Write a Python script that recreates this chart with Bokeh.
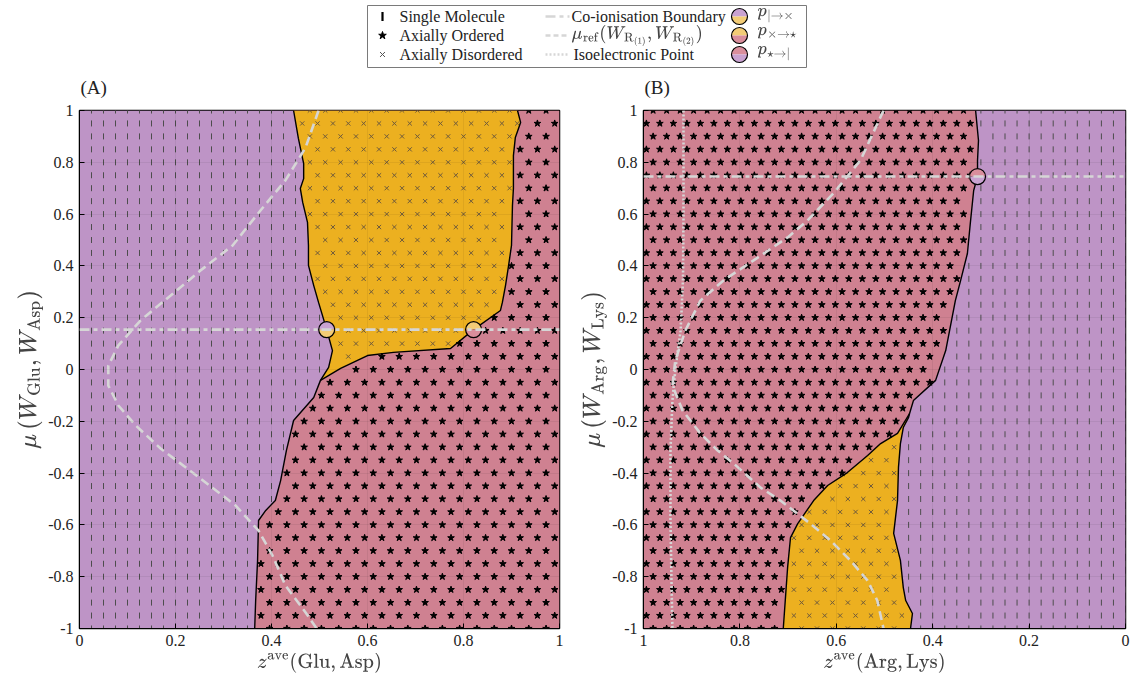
import numpy as np
from math import pi
from bokeh.plotting import figure
from bokeh.models import Range1d, FixedTicker, Label, Span, TeX
from bokeh.layouts import column, row
from bokeh.embed import file_html
from bokeh.resources import INLINE
from bokeh.core.properties import value

SERIF = "'Liberation Serif', 'DejaVu Serif', serif"
PURPLE = "#BE94C6"
PINK = "#CF8191"
ORANGE = "#ECB020"
PURPLE_L = "#C9A2D1"
YELLOW_L = "#F3CC76"
PINK_L = "#D98E9C"
GREY = "#d6d6d6"

# ---------------- data: panel A (Glu, Asp) ----------------
A_purple_z = [0.446, 0.456, 0.467, 0.467, 0.460, 0.465, 0.475, 0.477, 0.477, 0.488, 0.498,
              0.515, 0.527, 0.519, 0.502, 0.488, 0.446, 0.431, 0.419, 0.408, 0.388, 0.373,
              0.371, 0.367, 0.365]
A_purple_mu = [1.0, 0.892, 0.795, 0.737, 0.699, 0.645, 0.568, 0.479, 0.402, 0.324, 0.259,
               0.154, 0.073, 0.008, -0.042, -0.108, -0.197, -0.313, -0.429, -0.506, -0.544,
               -0.583, -0.737, -0.892, -1.0]
A_orange_z = [0.9125, 0.919, 0.908, 0.904, 0.904, 0.902, 0.900, 0.894, 0.8875, 0.881, 0.877,
              0.821, 0.773, 0.654, 0.600, 0.544, 0.502]
A_orange_mu = [1.0, 0.954, 0.896, 0.826, 0.699, 0.633, 0.479, 0.402, 0.324, 0.259, 0.228,
               0.154, 0.081, 0.066, 0.054, 0.004, -0.042]
A_triple_mu = -0.042
A_coion_mu = 0.154
A_ref_z = [0.498, 0.471, 0.429, 0.377, 0.319, 0.252, 0.190, 0.127, 0.081, 0.060, 0.060, 0.081,
           0.117, 0.169, 0.252, 0.325, 0.373, 0.402, 0.429, 0.471, 0.494]
A_ref_mu = [1.0, 0.857, 0.730, 0.614, 0.479, 0.382, 0.286, 0.189, 0.093, 0.015, -0.062, -0.139,
            -0.216, -0.305, -0.421, -0.525, -0.622, -0.718, -0.834, -0.938, -1.0]
A_pt_z = [0.515, 0.821]
A_pt_mu = [0.154, 0.154]
A_pt_top = [PURPLE_L, YELLOW_L]
A_pt_bot = [YELLOW_L, PINK_L]

# ---------------- data: panel B (Arg, Lys) ----------------
B_purple_z = [0.311, 0.305, 0.307, 0.307, 0.315, 0.322, 0.328, 0.342, 0.353, 0.373, 0.394,
              0.440, 0.448, 0.450, 0.461, 0.467, 0.471, 0.473, 0.481, 0.467, 0.461, 0.456,
              0.442, 0.446]
B_purple_mu = [1.0, 0.884, 0.807, 0.745, 0.691, 0.564, 0.448, 0.344, 0.266, 0.073, -0.042,
               -0.120, -0.170, -0.185, -0.224, -0.286, -0.378, -0.506, -0.633, -0.737, -0.842,
               -0.892, -0.942, -1.0]
B_orange_z = [0.448, 0.473, 0.508, 0.535, 0.577, 0.618, 0.647, 0.680, 0.695, 0.701, 0.710]
B_orange_mu = [-0.170, -0.247, -0.286, -0.332, -0.398, -0.448, -0.506, -0.595, -0.649, -0.764, -1.0]
B_triple_mu = -0.170
B_coion_mu = 0.745
B_ref_z = [0.502, 0.550, 0.606, 0.660, 0.701, 0.763, 0.834, 0.882, 0.913, 0.934, 0.940, 0.919,
           0.882, 0.846, 0.813, 0.757, 0.716, 0.654, 0.612, 0.571, 0.535, 0.515, 0.502]
B_ref_mu = [1.0, 0.807, 0.680, 0.575, 0.510, 0.432, 0.344, 0.266, 0.151, 0.035, -0.062, -0.158,
            -0.247, -0.313, -0.363, -0.456, -0.506, -0.595, -0.660, -0.737, -0.815, -0.892, -1.0]
B_iso_z = [0.917, 0.917, 0.918, 0.923, 0.934, 0.940, 0.944, 0.944, 0.942, 0.940]
B_iso_mu = [1.0, 0.6, 0.35, 0.15, 0.0, -0.12, -0.31, -0.58, -0.81, -1.0]
B_pt_z = [0.307]
B_pt_mu = [0.745]
B_pt_top = [PINK_L]
B_pt_bot = [PURPLE_L]

# sampling grid of the simulations (rows of mu, columns of z)
mu_rows = [round(-1 + 0.05 * i, 3) for i in range(41)]

x_ticks = [0, 0.2, 0.4, 0.6, 0.8, 1]
x_tick_labels = ["0", "0.2", "0.4", "0.6", "0.8", "1"]
y_ticks = [-1, -0.8, -0.6, -0.4, -0.2, 0, 0.2, 0.4, 0.6, 0.8, 1]
y_tick_labels = ["-1", "-0.8", "-0.6", "-0.4", "-0.2", "0", "0.2", "0.4", "0.6", "0.8", "1"]
panel_letters = ["(A)", "(B)"]


def grid(step, stagger):
    zs, ms = [], []
    for i, m in enumerate(mu_rows):
        off = step / 2 if (stagger and i % 2) else 0.0
        z = np.arange(off, 1.0001, step)
        zs.append(z)
        ms.append(np.full_like(z, m))
    return np.concatenate(zs), np.concatenate(ms)


def interp(mu, mus, zs):
    return np.interp(mu, mus[::-1], zs[::-1])


def make_panel(x_range, xlab, ylab, left, right, fw):
    p = figure(frame_width=fw, frame_height=518, x_range=x_range, y_range=Range1d(-1, 1),
               output_backend="svg", toolbar_location=None,
               min_border_left=left, min_border_right=right, min_border_top=10,
               min_border_bottom=51)
    p.background_fill_color = PURPLE
    p.border_fill_color = "white"
    p.outline_line_color = "black"
    p.outline_line_width = 1.5
    for ax, ticks, labs in ((p.xaxis, x_ticks, x_tick_labels), (p.yaxis, y_ticks, y_tick_labels)):
        ax.ticker = FixedTicker(ticks=ticks)
        ax.major_label_overrides = {t: l for t, l in zip(ticks, labs)}
        ax.minor_tick_line_color = None
        ax.major_tick_in = 5
        ax.major_tick_out = 0
        ax.major_tick_line_color = "black"
        ax.axis_line_color = "black"
        ax.major_label_text_font = SERIF
        ax.major_label_text_font_size = "16px"
        ax.major_label_text_color = "#222222"
        ax.major_label_standoff = 6
        ax.axis_label_text_font_style = "normal"
        ax.axis_label_standoff = 4
    p.xaxis.axis_label_text_font_size = "16px"
    p.yaxis.axis_label_text_font_size = "21px"
    p.yaxis.axis_label_standoff = 2
    p.xaxis.axis_label = xlab
    p.yaxis.axis_label = ylab
    p.xgrid.ticker = FixedTicker(ticks=x_ticks)
    p.ygrid.ticker = FixedTicker(ticks=y_ticks)
    p.grid.grid_line_color = "black"
    p.grid.grid_line_alpha = 0.06
    p.grid.level = "annotation"
    return p


def draw_markers(p, single, stars, crosses):
    p.scatter(single[0], single[1], marker="dash", angle=pi / 2, size=6,
              line_color="#4d4d4d", line_width=1)
    p.scatter(crosses[0], crosses[1], marker="x", size=6, line_color="#6e5a3c", line_width=1)
    p.scatter(stars[0], stars[1], marker="star", size=7, fill_color="black", line_color="black")


def draw_points(p, zs, mus, tops, bots):
    p.wedge(zs, mus, radius=8, radius_units="screen", start_angle=0, end_angle=pi,
            fill_color=tops, line_color=None)
    p.wedge(zs, mus, radius=8, radius_units="screen", start_angle=pi, end_angle=2 * pi,
            fill_color=bots, line_color=None)
    p.scatter(zs, mus, marker="circle", size=16, fill_color=None, line_color="black",
              line_width=1.2)


M = 0.006

# ---------------- panel A ----------------
pA = make_panel(Range1d(0, 1),
                r"$$z^{\mathrm{ave}}(\mathrm{Glu}, \mathrm{Asp})$$",
                r"$$\mu\left(W_{\mathrm{Glu}}, W_{\mathrm{Asp}}\right)$$", 79, 5, 480)
pA.patch([0] + A_purple_z + [0], [1] + A_purple_mu + [-1], fill_color=PURPLE, line_color=None)
pA.patch(A_purple_z + [1, 1], A_purple_mu + [-1, 1], fill_color=PINK, line_color=None)
kA = [i for i, m in enumerate(A_purple_mu) if m >= A_triple_mu]
pA.patch([A_purple_z[i] for i in kA] + A_orange_z[::-1][1:],
         [A_purple_mu[i] for i in kA] + A_orange_mu[::-1][1:], fill_color=ORANGE, line_color=None)

sz, sm = grid(0.025, False)
keep = sz < interp(sm, A_purple_mu, A_purple_z) - M
single = (sz[keep], sm[keep])
cz, cm = grid(0.032, True)
zb = interp(cm, A_purple_mu, A_purple_z)
zr = interp(cm, A_orange_mu, A_orange_z)
keep = (cm >= A_triple_mu) & (cz > zb + M) & (cz < zr - M)
crosses = (cz[keep], cm[keep])
tz, tm = grid(0.036, True)
zb = interp(tm, A_purple_mu, A_purple_z)
zr = interp(tm, A_orange_mu, A_orange_z)
keep = (tz > zb + M) & ~((tm >= A_triple_mu) & (tz < zr + M))
stars = (tz[keep], tm[keep])
draw_markers(pA, single, stars, crosses)

pA.line(A_purple_z, A_purple_mu, line_color="black", line_width=1.4)
pA.line(A_orange_z, A_orange_mu, line_color="black", line_width=1.4)
pA.line(A_ref_z, A_ref_mu, line_color=GREY, line_width=2.6, line_dash="9 5")
pA.add_layout(Span(location=A_coion_mu, dimension="width", line_color=GREY, line_width=2.6,
                   line_dash="10 4 4 4"))
draw_points(pA, A_pt_z, A_pt_mu, A_pt_top, A_pt_bot)

# ---------------- panel B ----------------
pB = make_panel(Range1d(1, 0),
                r"$$z^{\mathrm{ave}}(\mathrm{Arg}, \mathrm{Lys})$$",
                r"$$\mu\left(W_{\mathrm{Arg}}, W_{\mathrm{Lys}}\right)$$", 79, 9, 482)
pB.patch([0] + B_purple_z + [0], [1] + B_purple_mu + [-1], fill_color=PURPLE, line_color=None)
pB.patch(B_purple_z + [1, 1], B_purple_mu + [-1, 1], fill_color=PINK, line_color=None)
kB = [i for i, m in enumerate(B_purple_mu) if m < B_triple_mu]
pB.patch(B_orange_z + [B_purple_z[i] for i in kB[::-1]],
         B_orange_mu + [B_purple_mu[i] for i in kB[::-1]], fill_color=ORANGE, line_color=None)

sz, sm = grid(0.025, False)
keep = sz < interp(sm, B_purple_mu, B_purple_z) - M
single = (sz[keep], sm[keep])
cz, cm = grid(0.032, True)
zb = interp(cm, B_purple_mu, B_purple_z)
zo = interp(cm, B_orange_mu, B_orange_z)
keep = (cm <= B_triple_mu) & (cz > zb + M) & (cz < zo - M)
crosses = (cz[keep], cm[keep])
tz, tm = grid(0.028, True)
zb = interp(tm, B_purple_mu, B_purple_z)
zo = interp(tm, B_orange_mu, B_orange_z)
keep = (tz > zb + M) & ~((tm <= B_triple_mu) & (tz < zo + M))
stars = (tz[keep], tm[keep])
draw_markers(pB, single, stars, crosses)

pB.line(B_purple_z, B_purple_mu, line_color="black", line_width=1.4)
pB.line(B_orange_z, B_orange_mu, line_color="black", line_width=1.4)
pB.line(B_ref_z, B_ref_mu, line_color=GREY, line_width=2.6, line_dash="9 5")
pB.line(B_iso_z, B_iso_mu, line_color=GREY, line_width=2.6, line_dash="2 2")
pB.add_layout(Span(location=B_coion_mu, dimension="width", line_color=GREY, line_width=2.6,
                   line_dash="10 4 4 4"))
draw_points(pB, B_pt_z, B_pt_mu, B_pt_top, B_pt_bot)

# ---------------- legend + panel letters (header strip, pixel units) ----------------
H = 100
leg_text_1 = ["Single Molecule", "Axially Ordered", "Axially Disordered"]
leg_rows = [H - 16, H - 35, H - 54]  # top row to bottom row (y up)
L = figure(width=1134, height=H, x_range=Range1d(0, 1134), y_range=Range1d(0, H),
           output_backend="svg", toolbar_location=None, x_axis_type=None, y_axis_type=None,
           min_border=0)
L.grid.visible = False
L.outline_line_color = None
L.quad(left=[367], right=[806], bottom=[H - 67], top=[H - 5], fill_color="white",
       line_color="#7a7a7a", line_width=1)
L.scatter([382], [leg_rows[0]], marker="dash", angle=pi / 2, size=9, line_color="black",
          line_width=2.2)
L.scatter([382], [leg_rows[1]], marker="star", size=8, fill_color="black", line_color="black")
L.scatter([382], [leg_rows[2]], marker="x", size=7, line_color="#555555", line_width=1)
L.text([399] * 3, leg_rows, text=leg_text_1, text_font=value(SERIF),
       text_font_size="16px", text_baseline="middle", text_color="#222222")
L.line([545, 569], [leg_rows[0]] * 2, line_color=GREY, line_width=2.5, line_dash="10 4 4 4")
L.line([545, 569], [leg_rows[1]] * 2, line_color=GREY, line_width=2.5, line_dash="5 3")
L.line([545, 569], [leg_rows[2]] * 2, line_color=GREY, line_width=2.5, line_dash="2 2")
L.text([571, 573], [leg_rows[0], leg_rows[2]], text=["Co-ionisation Boundary", "Isoelectronic Point"],
       text_font=value(SERIF), text_font_size="16px", text_baseline="middle",
       text_color="#222222")
L.add_layout(Label(x=571, y=leg_rows[1],
                   text=TeX(text=r"\mu_{\mathrm{ref}}(W_{\mathrm{R}_{(1)}}, W_{\mathrm{R}_{(2)}})"),
                   text_font_size="15px", text_baseline="middle"))
leg_top = [PURPLE_L, YELLOW_L, PINK_L]
leg_bot = [YELLOW_L, PINK_L, PURPLE_L]
draw_points(L, [739] * 3, leg_rows, leg_top, leg_bot)
for r, t in zip(leg_rows, [r"p_{|\to\times}", r"p_{\times\to\star}", r"p_{\star\to|}"]):
    L.add_layout(Label(x=757, y=r, text=TeX(text=t), text_font_size="15px",
                       text_baseline="middle"))
L.text([80, 644], [H - 87] * 2, text=panel_letters, text_font=value(SERIF),
       text_font_size="19px", text_baseline="middle", text_color="#222222")

layout = column(L, row(pA, pB))
open("out.html", "w").write(file_html(layout, INLINE))
